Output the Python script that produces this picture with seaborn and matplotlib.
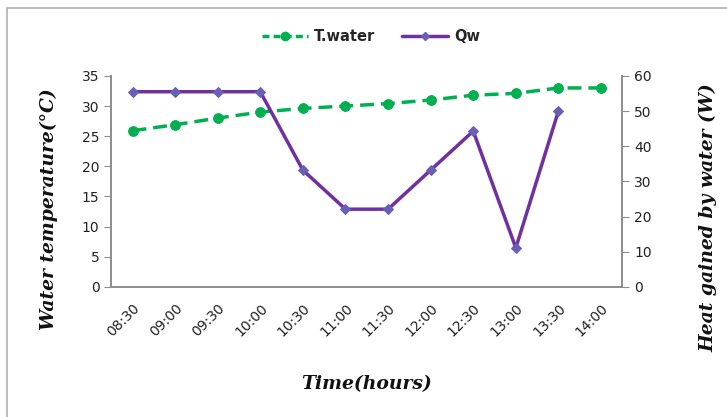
import matplotlib
matplotlib.use("Agg")
import matplotlib.pyplot as plt
import numpy as np
import pandas as pd
import seaborn as sns
from matplotlib.lines import Line2D
from matplotlib.patches import Rectangle

times = ["08:30", "09:00", "09:30", "10:00", "10:30", "11:00",
         "11:30", "12:00", "12:30", "13:00", "13:30", "14:00"]
t_water = [25.9, 26.9, 28.0, 29.0, 29.6, 30.0, 30.4, 31.0, 31.8, 32.1, 33.0, 33.0]
qw = [55.5, 55.5, 55.5, 55.5, 33.2, 22.1, 22.1, 33.2, 44.3, 11.1, 50.0]

green = "#00B050"
purple = "#7030A0"
axis_grey = "#8c8c8c"

sns.set_style("white")
plt.rcParams["font.family"] = ["DejaVu Sans"]

df_t = pd.DataFrame({"x": np.arange(len(times)), "T": t_water})
df_q = pd.DataFrame({"x": np.arange(len(qw)), "Q": qw})

fig = plt.figure(figsize=(7.27, 4.17), dpi=100)
ax = fig.add_axes([0.153, 0.312, 0.703, 0.506])
ax2 = ax.twinx()

sns.lineplot(data=df_t, x="x", y="T", ax=ax, color=green, lw=2.5,
             linestyle=(0, (4, 2)), marker="o", markersize=7,
             markeredgecolor=green, sort=False)
sns.lineplot(data=df_q, x="x", y="Q", ax=ax2, color=purple, lw=2.5,
             marker="D", markersize=5, markerfacecolor="#6a5fb5",
             markeredgecolor="#6a5fb5", sort=False)

ax.set_xlim(-0.5, len(times) - 0.5)
ax.set_ylim(0, 35)
ax2.set_ylim(0, 60)
ax.set_yticks(range(0, 36, 5))
ax2.set_yticks(range(0, 61, 10))

ax.set_xticks(np.arange(len(times)))
ax.set_xticklabels(times, rotation=45, ha="right", rotation_mode="anchor")
ax.set_xticks(np.arange(len(times) + 1) - 0.5, minor=True)
ax.tick_params(axis="x", which="major", length=0, pad=10, labelsize=10,
               colors="#222222")
ax.tick_params(axis="x", which="minor", length=5, color=axis_grey, direction="out")
ax.tick_params(axis="y", length=5, color=axis_grey, direction="out",
               labelsize=10, labelcolor="#222222", left=True)
ax2.tick_params(axis="y", length=5, color=axis_grey, direction="out",
                labelsize=10, labelcolor="#222222", right=True)

for a in (ax, ax2):
    a.spines["top"].set_visible(False)
    for s in ("left", "right", "bottom"):
        a.spines[s].set_color(axis_grey)
        a.spines[s].set_linewidth(1.2)
    a.grid(False)

label_font = dict(family="DejaVu Serif", fontweight="bold", style="italic",
                  fontsize=13.5, color="#111111")
ax.set_xlabel("Time(hours)", labelpad=26, **label_font)
ax.set_ylabel("Water temperature(\u00b0C)", **label_font)
ax2.set_ylabel("Heat gained by water (W)", **label_font)
ax.yaxis.set_label_coords(-0.105, 0.37)
ax2.yaxis.set_label_coords(1.15, 0.33)

handles = [
    Line2D([], [], color=green, lw=2.5, linestyle=(0, (2, 1.2)), marker="o",
           markersize=6),
    Line2D([], [], color=purple, lw=2.5, marker="D", markersize=4,
           markerfacecolor="#6a5fb5", markeredgecolor="#6a5fb5"),
]
fig.legend(handles, ["T.water", "Qw"], loc="center", bbox_to_anchor=(0.51, 0.912),
           ncol=2, frameon=False, handlelength=3.2,
           columnspacing=1.8, handletextpad=0.4,
           prop={"family": "DejaVu Sans", "weight": "bold", "size": 10.5})

fig.patches.append(Rectangle((0.009, -0.01), 1.0, 0.99, transform=fig.transFigure,
                             fill=False, edgecolor="#b0b0b0", lw=1.2))

fig.savefig("out.png", dpi=100)
